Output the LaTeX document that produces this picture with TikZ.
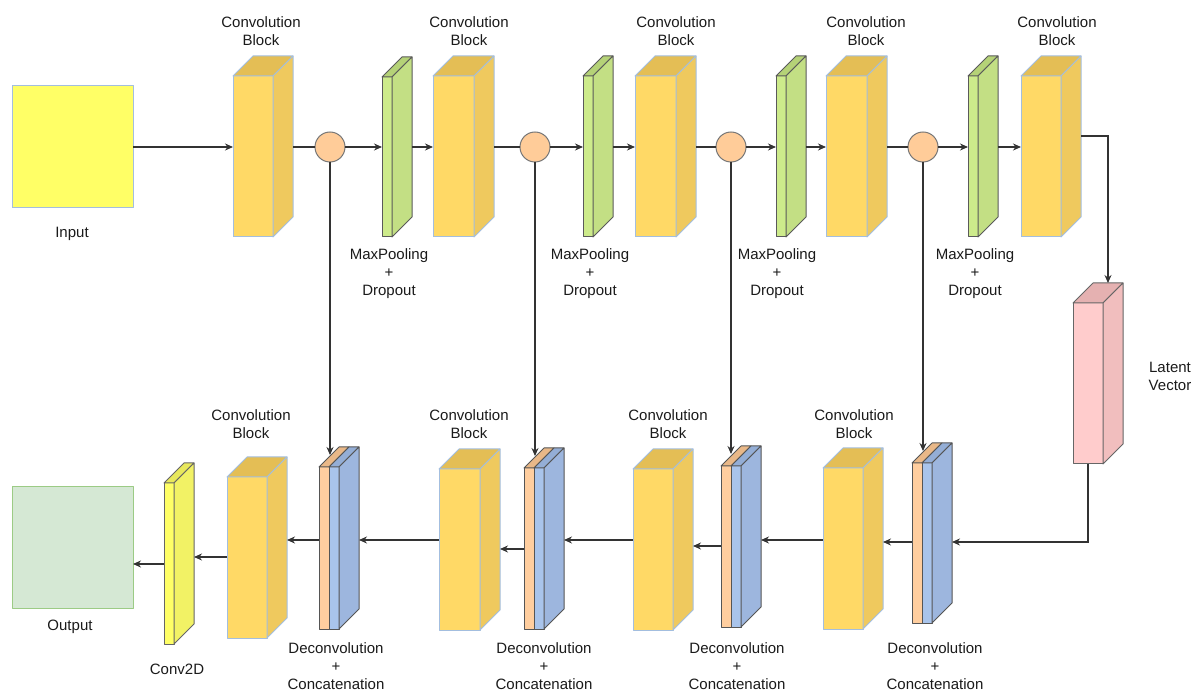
\documentclass[tikz,border=0pt]{standalone}
\usepackage{fontspec}
\setmainfont{Liberation Sans}
\usetikzlibrary{arrows.meta}
\definecolor{convf}{HTML}{FFD966}
\definecolor{convs}{HTML}{EFC95E}
\definecolor{convt}{HTML}{E4BE55}
\definecolor{convd}{HTML}{A3BEDF}
\definecolor{grf}{HTML}{CDEB8B}
\definecolor{grs}{HTML}{C3DF84}
\definecolor{grt}{HTML}{B5D277}
\definecolor{grd}{HTML}{5A5A5A}
\definecolor{pkf}{HTML}{FFCCCC}
\definecolor{pks}{HTML}{F1BEBE}
\definecolor{pkt}{HTML}{E5B1B1}
\definecolor{pkd}{HTML}{666666}
\definecolor{ylf}{HTML}{FFFF66}
\definecolor{yls}{HTML}{F2F265}
\definecolor{ylt}{HTML}{E8E85C}
\definecolor{yld}{HTML}{666666}
\definecolor{orf}{HTML}{FFCE9F}
\definecolor{ort}{HTML}{E9B888}
\definecolor{blf}{HTML}{A9C4EB}
\definecolor{bls}{HTML}{9DB6DE}
\definecolor{blt}{HTML}{94AED6}
\definecolor{dcd}{HTML}{555555}
\definecolor{inf}{HTML}{FFFF66}
\definecolor{inb}{HTML}{A3BEDF}
\definecolor{outf}{HTML}{D5E8D4}
\definecolor{outb}{HTML}{9CCB85}
\definecolor{circf}{HTML}{FFCC99}
\definecolor{circd}{HTML}{777777}
\definecolor{lnc}{HTML}{333333}
\definecolor{txt}{HTML}{1A1A1A}
\tikzset{
  face/.style={rectangle, inner sep=0pt, outer sep=0pt, line width=1pt, line join=round},
  circ/.style={circle, minimum size=30pt, inner sep=0pt, outer sep=0pt, fill=circf, draw=circd, line width=1pt},
  lbl/.style={align=center, text=txt, font=\fontsize{15}{18}\selectfont, inner sep=0pt},
  ln/.style={draw=lnc, line width=1.1pt},
  arr/.style={ln, -{Stealth[length=8pt,width=7pt]}},
}
\newcommand{\cuboid}[6]{%
  \node[face, fill=#6f, draw=#6d, minimum width=#4pt, minimum height=#5pt, anchor=north west] (#1) at (#2,#3) {};
  \filldraw[fill=#6t, draw=#6d, line width=1pt, line join=round] (#1.north west) -- ++(20,-20) -- ++(#4,0) -- (#1.north east) -- cycle;
  \filldraw[fill=#6s, draw=#6d, line width=1pt, line join=round] (#1.north east) -- ++(20,-20) -- ++(0,#5) -- (#1.south east) -- cycle;
  \coordinate (#1-b) at ([xshift=20pt]#1.east);
}
\newcommand{\deconv}[4]{%
  \node[face, fill=orf, draw=dcd, minimum width=10pt, minimum height=#4pt, anchor=north west] (#1o) at (#2,#3) {};
  \node[face, fill=blf, draw=dcd, minimum width=10pt, minimum height=#4pt, anchor=north west] (#1) at (#1o.north east) {};
  \filldraw[fill=ort, draw=dcd, line width=1pt, line join=round] (#1o.north west) -- ++(20,-20) -- ++(10,0) -- (#1o.north east) -- cycle;
  \filldraw[fill=blt, draw=dcd, line width=1pt, line join=round] (#1.north west) -- ++(20,-20) -- ++(10,0) -- (#1.north east) -- cycle;
  \filldraw[fill=bls, draw=dcd, line width=1pt, line join=round] (#1.north east) -- ++(20,-20) -- ++(0,#4) -- (#1.south east) -- cycle;
  \coordinate (#1-b) at ([xshift=20pt]#1.east);
  \coordinate (#1-t) at ([yshift=12pt]#1o.north east);
}
\begin{document}
\begin{tikzpicture}[x=1pt, y=-1pt]
\useasboundingbox (0,0) rectangle (1195,692);

% ---------- top row ----------
\node[face, fill=inf, draw=inb, minimum width=121pt, minimum height=122pt, anchor=north west] (in) at (12,86) {};
\cuboid{c1}{233}{76}{40}{161}{conv}
\cuboid{p1}{382}{77}{10}{160}{gr}
\cuboid{c2}{433}{76}{41}{161}{conv}
\cuboid{p2}{583}{76}{10}{161}{gr}
\cuboid{c3}{635}{76}{41}{161}{conv}
\cuboid{p3}{776}{76}{10}{161}{gr}
\cuboid{c4}{826}{76}{41}{161}{conv}
\cuboid{p4}{968}{76}{10}{161}{gr}
\cuboid{c5}{1021}{76}{40}{161}{conv}
\node[circ] (k1) at (330,147) {};
\node[circ] (k2) at (535,147) {};
\node[circ] (k3) at (731,147) {};
\node[circ] (k4) at (923,147) {};

% latent
\cuboid{lat}{1073}{303}{30}{161}{pk}

% ---------- bottom row ----------
\deconv{dc4}{912}{463}{160}
\cuboid{cb4}{823}{468}{40}{161}{conv}
\deconv{dc3}{721}{466}{161}
\cuboid{cb3}{633}{469}{40}{161}{conv}
\deconv{dc2}{524}{468}{161}
\cuboid{cb2}{439}{469}{41}{161}{conv}
\deconv{dc1}{319}{467}{162}
\cuboid{cb1}{227}{477}{40}{161}{conv}
\cuboid{cv}{164}{483}{10}{161}{yl}
\node[face, fill=outf, draw=outb, minimum width=121pt, minimum height=121pt, anchor=north west] (out) at (12,487) {};

% ---------- labels ----------
\node[lbl] (lc1) at (261,31) {Convolution\\Block};
\node[lbl] (lc2) at (469,31) {Convolution\\Block};
\node[lbl] (lc3) at (676,31) {Convolution\\Block};
\node[lbl] (lc4) at (866,31) {Convolution\\Block};
\node[lbl] (lc5) at (1057,31) {Convolution\\Block};
\node[lbl] (lin) at (72,234) {Input};
\node[lbl] (lp1) at (389,274) {MaxPooling\\+\\Dropout};
\node[lbl] (lp2) at (590,274) {MaxPooling\\+\\Dropout};
\node[lbl] (lp3) at (777,274) {MaxPooling\\+\\Dropout};
\node[lbl] (lp4) at (975,274) {MaxPooling\\+\\Dropout};
\node[lbl] (llat) at (1170,376) {Latent\\Vector};
\node[lbl] (lb1) at (251,424) {Convolution\\Block};
\node[lbl] (lb2) at (469,424) {Convolution\\Block};
\node[lbl] (lb3) at (668,424) {Convolution\\Block};
\node[lbl] (lb4) at (854,424) {Convolution\\Block};
\node[lbl] (ld1) at (336,666) {Deconvolution\\+\\Concatenation};
\node[lbl] (ld2) at (544,666) {Deconvolution\\+\\Concatenation};
\node[lbl] (ld3) at (737,666) {Deconvolution\\+\\Concatenation};
\node[lbl] (ld4) at (935,666) {Deconvolution\\+\\Concatenation};
\node[lbl] (lout) at (70,627) {Output};
\node[lbl] (lcv) at (177,669) {Conv2D};

% ---------- connectors: top row ----------
\draw[arr] (in.east) -- (c1.west |- in.east);
\draw[ln] (c1-b |- k1) -- (k1.west);
\draw[arr] (k1.east) -- (p1.west |- k1);
\draw[arr] (p1-b |- k1) -- (c2.west |- k1);
\draw[ln] (c2-b |- k2) -- (k2.west);
\draw[arr] (k2.east) -- (p2.west |- k2);
\draw[arr] (p2-b |- k2) -- (c3.west |- k2);
\draw[ln] (c3-b |- k3) -- (k3.west);
\draw[arr] (k3.east) -- (p3.west |- k3);
\draw[arr] (p3-b |- k3) -- (c4.west |- k3);
\draw[ln] (c4-b |- k4) -- (k4.west);
\draw[arr] (k4.east) -- (p4.west |- k4);
\draw[arr] (p4-b |- k4) -- (c5.west |- k4);
\coordinate (t5) at (1108,136);
\draw[arr] (c5-b |- t5) -- (t5) -- ([xshift=5pt,yshift=20pt]lat.north east);

% ---------- skip connections ----------
\draw[arr] (k1.south) -- (k1.south |- dc1-t);
\draw[arr] (k2.south) -- (k2.south |- dc2-t);
\draw[arr] (k3.south) -- (k3.south |- dc3-t);
\draw[arr] (k4.south) -- (k4.south |- dc4-t);

% ---------- connectors: bottom row ----------
\coordinate (t6) at (1088,542);
\coordinate (ya) at (0,540);
\coordinate (yb) at (0,546);
\coordinate (yc) at (0,549);
\coordinate (yd) at (0,557);
\coordinate (ye) at (0,564);
\draw[arr] (lat.south) -- (t6) -- (dc4-b |- t6);
\draw[arr] (dc4o.west |- t6) -- (cb4-b |- t6);
\draw[arr] (cb4.west |- ya) -- (dc3-b |- ya);
\draw[arr] (dc3o.west |- yb) -- (cb3-b |- yb);
\draw[arr] (cb3.west |- ya) -- (dc2-b |- ya);
\draw[arr] (dc2o.west |- yc) -- (cb2-b |- yc);
\draw[arr] (cb2.west |- ya) -- (dc1-b |- ya);
\draw[arr] (dc1o.west |- ya) -- (cb1-b |- ya);
\draw[arr] (cb1.west |- yd) -- (cv-b |- yd);
\draw[arr] (cv.west |- ye) -- (out.east |- ye);
\end{tikzpicture}
\end{document}
